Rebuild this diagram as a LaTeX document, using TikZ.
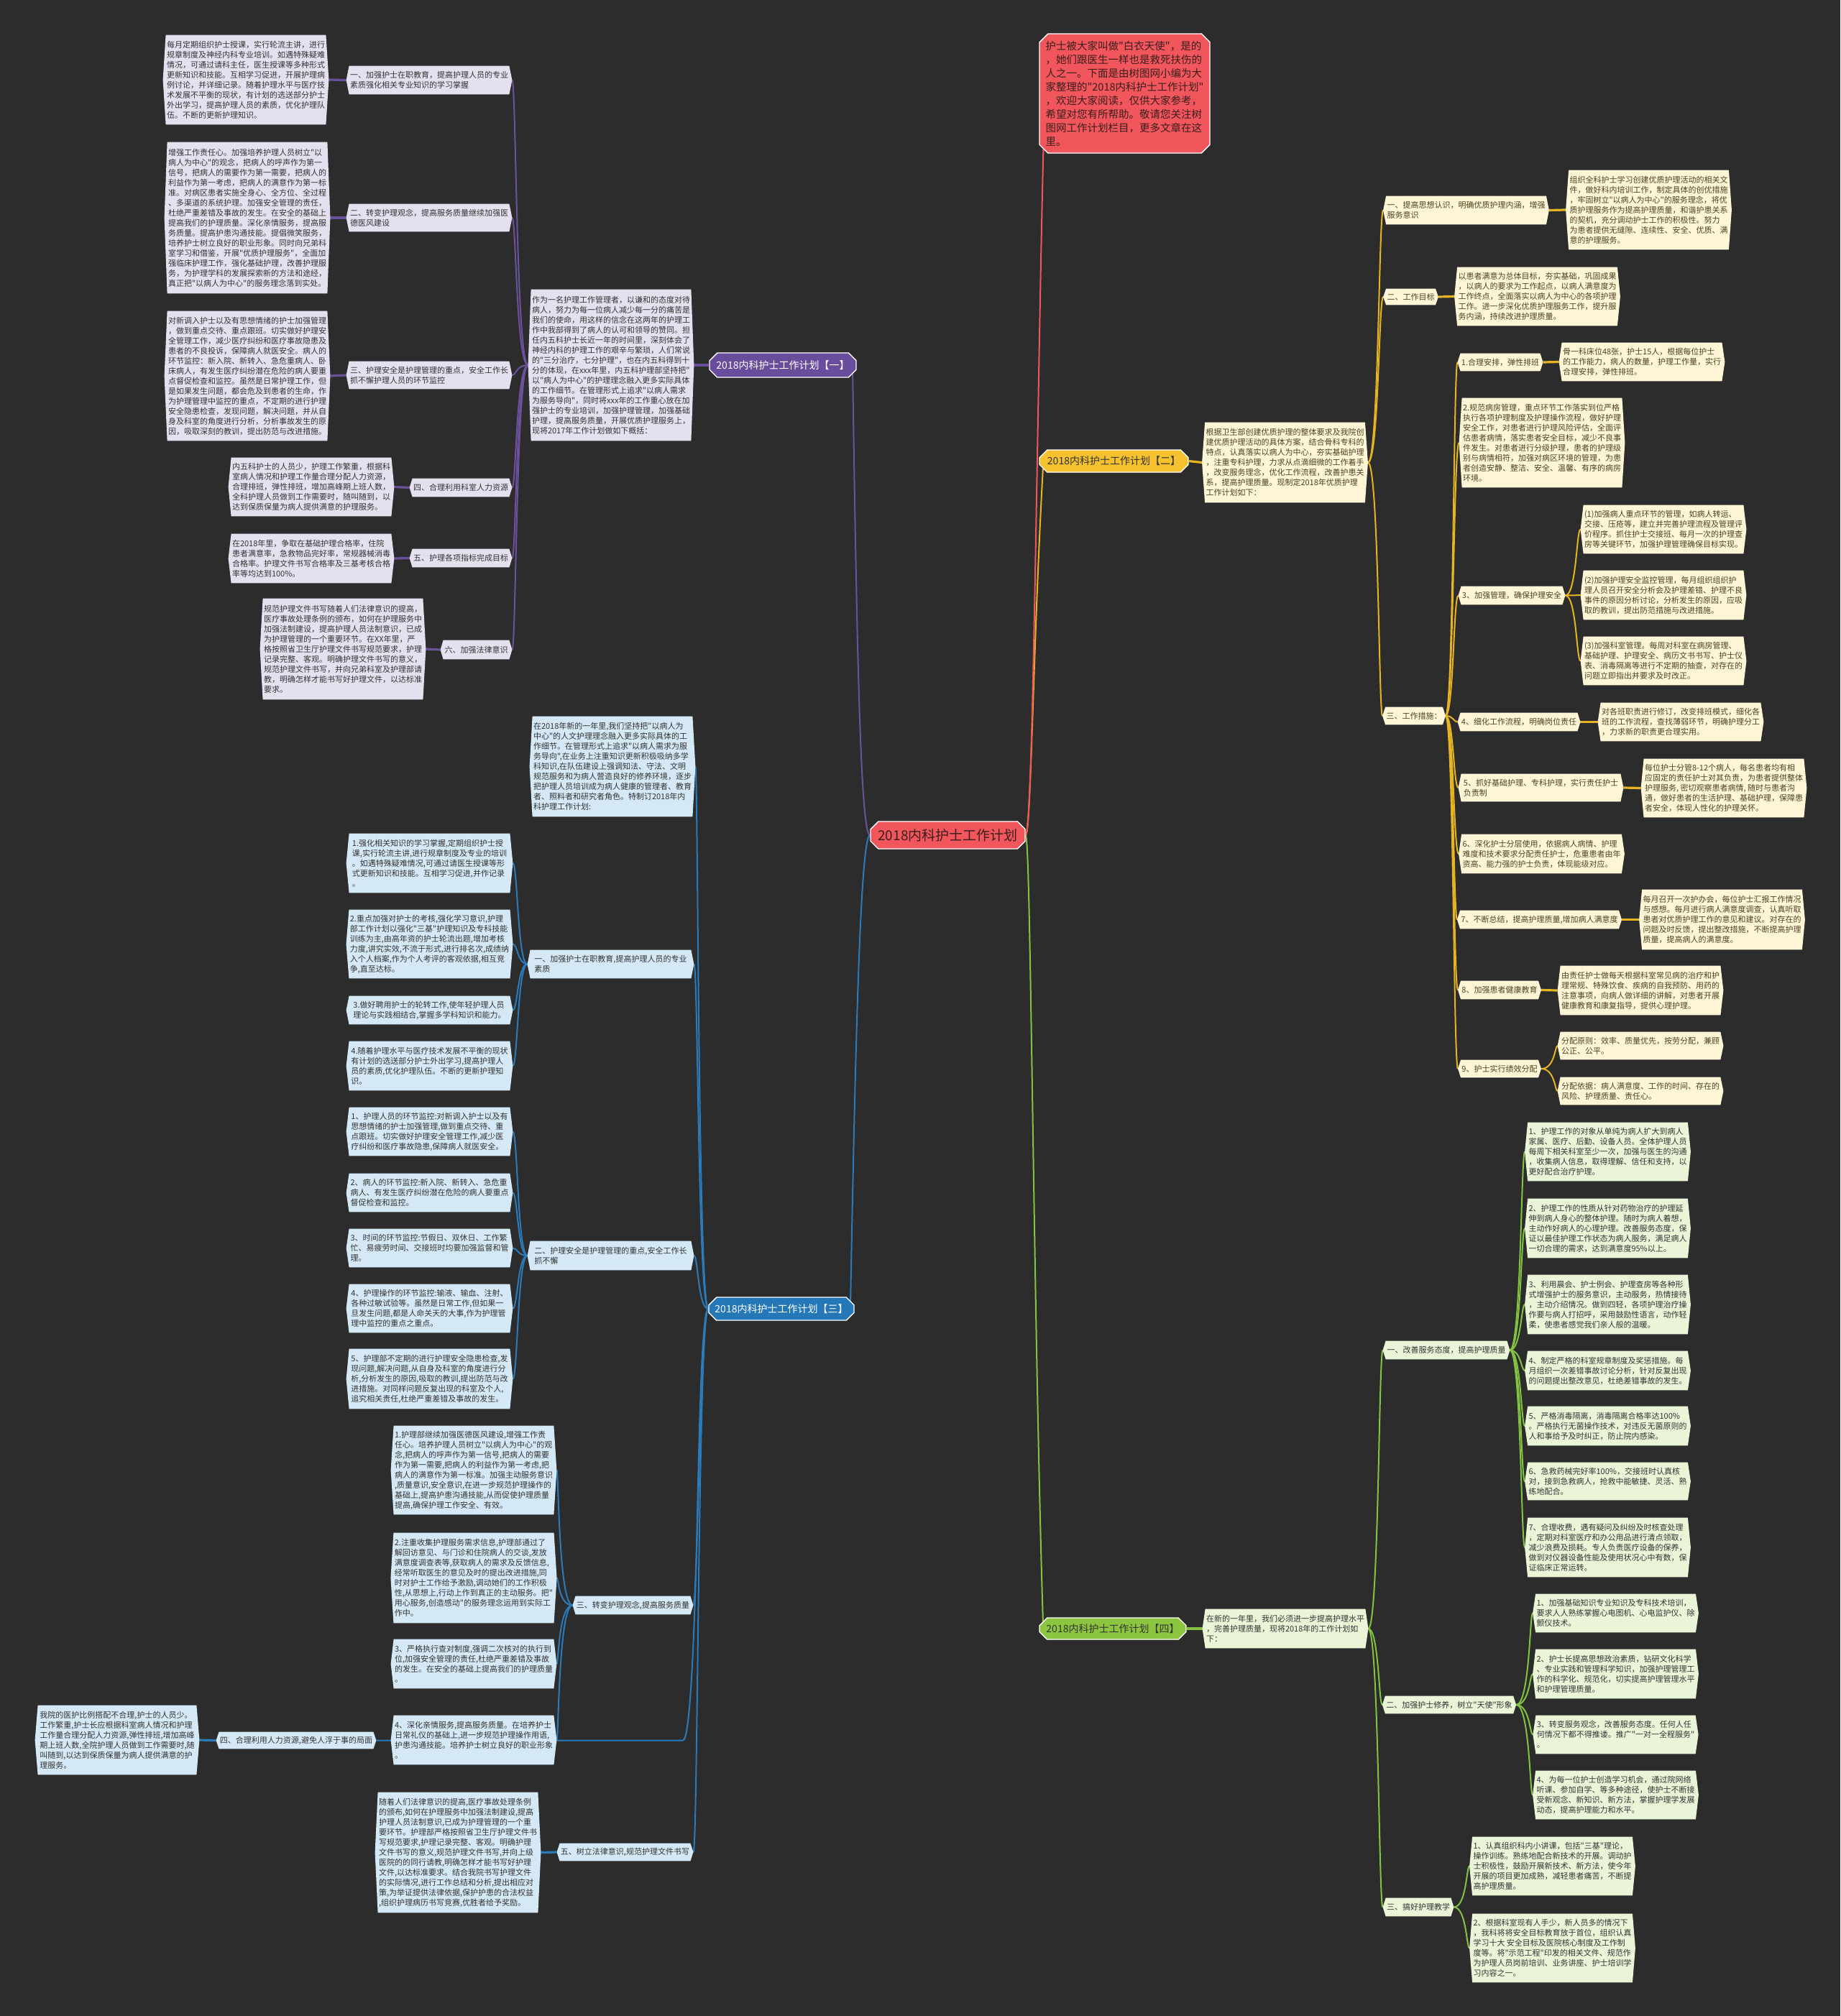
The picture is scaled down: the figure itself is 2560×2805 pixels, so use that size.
\documentclass[tikz,border=0pt]{standalone}
\usepackage{fontspec}
\newfontfamily\cjk{Noto Sans CJK SC}
\usetikzlibrary{shapes.misc,calc}
\makeatletter
\newdimen\hexdepth \hexdepth=2pt
\newdimen\hxa \newdimen\hxb \newdimen\hya \newdimen\hyb \newdimen\hym
\pgfdeclareshape{hexbox}{
  \inheritsavedanchors[from=rectangle]
  \inheritanchorborder[from=rectangle]
  \inheritanchor[from=rectangle]{center}
  \inheritanchor[from=rectangle]{north}
  \inheritanchor[from=rectangle]{south}
  \inheritanchor[from=rectangle]{west}
  \inheritanchor[from=rectangle]{east}
  \inheritanchor[from=rectangle]{north west}
  \inheritanchor[from=rectangle]{north east}
  \inheritanchor[from=rectangle]{south west}
  \inheritanchor[from=rectangle]{south east}
  \inheritanchor[from=rectangle]{text}
  \inheritanchor[from=rectangle]{base}
  \inheritanchor[from=rectangle]{mid}
  \anchor{tw}{\southwest \pgf@xa=\pgf@x \pgf@ya=\pgf@y \northeast
    \pgf@y=.5\pgf@y \advance\pgf@y by .5\pgf@ya
    \pgf@x=\pgf@xa \advance\pgf@x by -\hexdepth}
  \anchor{te}{\southwest \pgf@ya=\pgf@y \northeast
    \pgf@y=.5\pgf@y \advance\pgf@y by .5\pgf@ya
    \advance\pgf@x by \hexdepth}
  \backgroundpath{
    \southwest \hxa=\pgf@x \hya=\pgf@y
    \northeast \hxb=\pgf@x \hyb=\pgf@y
    \hym=.5\hya \advance\hym by .5\hyb
    \pgfpathmoveto{\pgfqpoint{\hxa}{\hyb}}
    \pgfpathlineto{\pgfqpoint{\dimexpr\hxa-\hexdepth\relax}{\hym}}
    \pgfpathlineto{\pgfqpoint{\hxa}{\hya}}
    \pgfpathlineto{\pgfqpoint{\hxb}{\hya}}
    \pgfpathlineto{\pgfqpoint{\dimexpr\hxb+\hexdepth\relax}{\hym}}
    \pgfpathlineto{\pgfqpoint{\hxb}{\hyb}}
    \pgfpathclose
  }
}
\makeatother
\pgfdeclarelayer{bg}\pgfdeclarelayer{lines}\pgfsetlayers{bg,lines,main}
\definecolor{bgc}{HTML}{2C2C2C}
\definecolor{rootc}{HTML}{F0565B}
\definecolor{purH}{HTML}{6A4C9C}
\definecolor{purL}{HTML}{E5E0F0}
\definecolor{purLine}{HTML}{6B519B}
\definecolor{yelH}{HTML}{F5C12E}
\definecolor{yelL}{HTML}{FDF5D5}
\definecolor{yelLine}{HTML}{E6B422}
\definecolor{yelT}{HTML}{4D4221}
\definecolor{bluH}{HTML}{2478B8}
\definecolor{bluL}{HTML}{D5E8F5}
\definecolor{bluLine}{HTML}{2B7BBB}
\definecolor{grnH}{HTML}{8CC63F}
\definecolor{grnL}{HTML}{EAF5D8}
\definecolor{grnLine}{HTML}{82C341}
\definecolor{txtc}{HTML}{333333}
\definecolor{rootT}{HTML}{3A1E1E}
\tikzset{
  every node/.style={font=\cjk\fontsize{5.5}{7}\selectfont},
  wh/.style 2 args={minimum width=#1*0.5pt, minimum height=#2*0.5pt},
  hx/.style={shape=hexbox, align=left, inner xsep=0.5pt, inner ysep=1pt},
  lfP/.style={hx, fill=purL, text=txtc},
  lfY/.style={hx, fill=yelL, text=yelT},
  lfB/.style={hx, fill=bluL, text=txtc},
  lfG/.style={hx, fill=grnL, text=txtc},
  hdr/.style={chamfered rectangle, chamfered rectangle xsep=2.5pt, draw=white, line width=0.7pt, inner sep=1pt, font=\cjk\fontsize{7}{8}\selectfont, align=center},
  lnP/.style={draw=purLine, line width=1pt},
  lnPs/.style={draw=purLine, line width=1.6pt},
  lnY/.style={draw=yelLine, line width=1pt},
  lnYs/.style={draw=yelLine, line width=1.6pt},
  lnB/.style={draw=bluLine, line width=1pt},
  lnBs/.style={draw=bluLine, line width=1.6pt},
  lnG/.style={draw=grnLine, line width=1pt},
  lnGs/.style={draw=grnLine, line width=1.6pt},
  lnR/.style={draw=rootc, line width=1pt},
}
\begin{document}
\begin{tikzpicture}[x=0.5pt,y=-0.5pt]
\begin{pgfonlayer}{bg}
\fill[bgc] (0,0) rectangle (2560,2805);
\end{pgfonlayer}
\useasboundingbox (0,0) rectangle (2560,2805);

% ===== root and intro =====
\node[hdr, fill=rootc, text=rootT, wh={215}{38}, font=\cjk\fontsize{9.5}{11}\selectfont] (root) at (1318.5,1162) {2018内科护士工作计划};
\node[hdr, fill=rootc, text=rootT, wh={237}{166}, align=left, chamfered rectangle xsep=3pt, font=\cjk\fontsize{7.25}{9.5}\selectfont] (intro) at (1564.5,130) {护士被大家叫做"白衣天使"，是的\\，她们跟医生一样也是救死扶伤的\\人之一。下面是由树图网小编为大\\家整理的"2018内科护士工作计划"\\，欢迎大家阅读，仅供大家参考，\\希望对您有所帮助。敬请您关注树\\图网工作计划栏目，更多文章在这\\里。};

% ===== branch 1 (purple) =====
\node[hdr, fill=purH, text=white, wh={204}{34}] (h1) at (1089,508) {2018内科护士工作计划【一】};
\node[lfP, wh={222}{210}] (d1) at (850,508) {作为一名护理工作管理者，以谦和的态度对待\\病人，努力为每一位病人减少每一分的痛苦是\\我们的使命，用这样的信念在这两年的护理工\\作中我部得到了病人的认可和领导的赞同。担\\任内五科护士长近一年的时间里，深刻体会了\\神经内科的护理工作的艰辛与繁琐，人们常说\\的"三分治疗，七分护理"，也在内五科得到十\\分的体现，在xxx年里，内五科护理部坚持把"\\以"病人为中心"的护理理念融入更多实际具体\\的工作细节。在管理形式上追求"以病人需求\\为服务导向"，同时将xxx年的工作重心放在加\\强护士的专业培训，加强护理管理，加强基础\\护理，提高服务质量，开展优质护理服务上，\\现将2017年工作计划做如下概括：};
\node[lfP, wh={222}{39}] (s11) at (597,111.5) {一、加强护士在职教育，提高护理人员的专业\\素质强化相关专业知识的学习掌握};
\node[lfP, wh={218}{124}] (l11) at (342,111) {每月定期组织护士授课，实行轮流主讲，进行\\规章制度及神经内科专业培训。如遇特殊疑难\\情况，可通过请科主任，医生授课等多种形式\\更新知识和技能。互相学习促进，开展护理病\\例讨论，并详细记录。随着护理水平与医疗技\\术发展不平衡的现状，有计划的选送部分护士\\外出学习，提高护理人员的素质，优化护理队\\伍。不断的更新护理知识。};
\node[lfP, wh={222}{38}] (s12) at (597,303) {二、转变护理观念，提高服务质量继续加强医\\德医风建设};
\node[lfP, wh={222}{210}] (l12) at (344,303) {增强工作责任心。加强培养护理人员树立"以\\病人为中心"的观念，把病人的呼声作为第一\\信号，把病人的需要作为第一需要，把病人的\\利益作为第一考虑，把病人的满意作为第一标\\准。对病区患者实施全身心、全方位、全过程\\、多渠道的系统护理。加强安全管理的责任，\\杜绝严重差错及事故的发生。在安全的基础上\\提高我们的护理质量。深化亲情服务，提高服\\务质量。提高护患沟通技能。提倡微笑服务，\\培养护士树立良好的职业形象。同时向兄弟科\\室学习和借鉴，开展"优质护理服务"，全面加\\强临床护理工作，强化基础护理，改善护理服\\务，为护理学科的发展探索新的方法和途经，\\真正把"以病人为中心"的服务理念落到实处。};
\node[lfP, wh={222}{38}] (s13) at (597,522) {三、护理安全是护理管理的重点，安全工作长\\抓不懈护理人员的环节监控};
\node[lfP, wh={222}{180}] (l13) at (344,523) {对新调入护士以及有思想情绪的护士加强管理\\，做到重点交待、重点跟班。切实做好护理安\\全管理工作，减少医疗纠纷和医疗事故隐患及\\患者的不良投诉，保障病人就医安全。病人的\\环节监控：新入院、新转入、急危重病人、卧\\床病人，有发生医疗纠纷潜在危险的病人要重\\点督促检查和监控。虽然是日常护理工作，但\\是如果发生问题，都会危及到患者的生命，作\\为护理管理中监控的重点，不定期的进行护理\\安全隐患检查，发现问题，解决问题，并从自\\身及科室的角度进行分析，分析事故发生的原\\因，吸取深刻的教训，提出防范与改进措施。};
\node[lfP, wh={134}{25}] (s14) at (641,678.5) {四、合理利用科室人力资源};
\node[lfP, wh={222}{81}] (l14) at (433,677.5) {内五科护士的人员少，护理工作繁重，根据科\\室病人情况和护理工作量合理分配人力资源，\\合理排班，弹性排班，增加高峰期上班人数，\\全科护理人员做到工作需要时，随叫随到，以\\达到保质保量为病人提供满意的护理服务。};
\node[lfP, wh={134}{25}] (s15) at (641,776.5) {五、护理各项指标完成目标};
\node[lfP, wh={222}{68}] (l15) at (433,777) {在2018年里，争取在基础护理合格率，住院\\患者满意率，急救物品完好率，常规器械消毒\\合格率。护理文件书写合格率及三基考核合格\\率等均达到100\%。};
\node[lfP, wh={91}{26}] (s16) at (662.5,904) {六、加强法律意识};
\node[lfP, wh={220}{140}] (l16) at (477,903) {规范护理文件书写随着人们法律意识的提高，\\医疗事故处理条例的颁布，如何在护理服务中\\加强法制建设，提高护理人员法制意识，已成\\为护理管理的一个重要环节。在XX年里，严\\格按照省卫生厅护理文件书写规范要求，护理\\记录完整、客观。明确护理文件书写的意义，\\规范护理文件书写，并向兄弟科室及护理部请\\教，明确怎样才能书写好护理文件，以达标准\\要求。};

% ===== branch 3 (blue) =====
\node[hdr, fill=bluH, text=white, wh={202}{32}] (h3) at (1087,1821) {2018内科护士工作计划【三】};
\node[lfB, wh={218}{139}] (d3) at (852,1066.5) {在2018年新的一年里,我们坚持把"以病人为\\中心"的人文护理理念融入更多实际具体的工\\作细节。在管理形式上追求"以病人需求为服\\务导向",在业务上注重知识更新积极吸纳多学\\科知识,在队伍建设上强调知法、守法、文明\\规范服务和为病人营造良好的修养环境，逐步\\把护理人员培训成为病人健康的管理者、教育\\者、照料者和研究者角色。特制订2018年内\\科护理工作计划:};
\node[lfB, wh={223}{39}] (s31) at (849.5,1341.5) {一、加强护士在职教育,提高护理人员的专业\\素质};
\node[lfB, wh={223}{82}] (l311) at (597.5,1201) {1.强化相关知识的学习掌握,定期组织护士授\\课,实行轮流主讲,进行规章制度及专业的培训\\。如遇特殊疑难情况,可通过请医生授课等形\\式更新知识和技能。互相学习促进,并作记录\\。};
\node[lfB, wh={223}{95}] (l312) at (597.5,1313.5) {2.重点加强对护士的考核,强化学习意识,护理\\部工作计划以强化"三基"护理知识及专科技能\\训练为主,由高年资的护士轮流出题,增加考核\\力度,讲究实效,不流于形式,进行排名次,成绩纳\\入个人档案,作为个人考评的客观依据,相互竞\\争,直至达标。};
\node[lfB, wh={223}{39}] (l313) at (597.5,1405.5) {3.做好聘用护士的轮转工作,使年轻护理人员\\理论与实践相结合,掌握多学科知识和能力。};
\node[lfB, wh={223}{68}] (l314) at (597.5,1483) {4.随着护理水平与医疗技术发展不平衡的现状\\有计划的选送部分护士外出学习,提高护理人\\员的素质,优化护理队伍。不断的更新护理知\\识。};
\node[lfB, wh={223}{40}] (s32) at (849.5,1747) {二、护理安全是护理管理的重点,安全工作长\\抓不懈};
\node[lfB, wh={223}{67}] (l321) at (597.5,1574.5) {1、护理人员的环节监控:对新调入护士以及有\\思想情绪的护士加强管理,做到重点交待、重\\点跟班。切实做好护理安全管理工作,减少医\\疗纠纷和医疗事故隐患,保障病人就医安全。};
\node[lfB, wh={223}{53}] (l322) at (597.5,1659.5) {2、病人的环节监控:新入院、新转入、急危重\\病人、有发生医疗纠纷潜在危险的病人要重点\\督促检查和监控。};
\node[lfB, wh={223}{53}] (l323) at (597.5,1736.5) {3、时间的环节监控:节假日、双休日、工作繁\\忙、易疲劳时间、交接班时均要加强监督和管\\理。};
\node[lfB, wh={223}{67}] (l324) at (597.5,1820.5) {4、护理操作的环节监控:输液、输血、注射、\\各种过敏试验等。虽然是日常工作,但如果一\\旦发生问题,都是人命关天的大事,作为护理管\\理中监控的重点之重点。};
\node[lfB, wh={223}{83}] (l325) at (597.5,1918.5) {5、护理部不定期的进行护理安全隐患检查,发\\现问题,解决问题,从自身及科室的角度进行分\\析,分析发生的原因,吸取的教训,提出防范与改\\进措施。对同样问题反复出现的科室及个人,\\追究相关责任,杜绝严重差错及事故的发生。};
\node[lfB, wh={157}{25}] (s33) at (880.5,2233.5) {三、转变护理观念,提高服务质量};
\node[lfB, wh={214}{123}] (l331) at (659,2045.5) {1.护理部继续加强医德医风建设,增强工作责\\任心。培养护理人员树立"以病人为中心"的观\\念,把病人的呼声作为第一信号,把病人的需要\\作为第一需要,把病人的利益作为第一考虑,把\\病人的满意作为第一标准。加强主动服务意识\\,质量意识,安全意识,在进一步规范护理操作的\\基础上,提高护患沟通技能,从而促使护理质量\\提高,确保护理工作安全、有效。};
\node[lfB, wh={214}{125}] (l332) at (659,2195.5) {2.注重收集护理服务需求信息,护理部通过了\\解回访意见、与门诊和住院病人的交谈,发放\\满意度调查表等,获取病人的需求及反馈信息,\\经常听取医生的意见及时的提出改进措施,同\\时对护士工作给予激励,调动她们的工作积极\\性,从思想上,行动上作到真正的主动服务。把"\\用心服务,创造感动"的服务理念运用到实际工\\作中。};
\node[lfB, wh={214}{68}] (l333) at (659,2315) {3、严格执行查对制度,强调二次核对的执行到\\位,加强安全管理的责任,杜绝严重差错及事故\\的发生。在安全的基础上提高我们的护理质量\\。};
\node[lfB, wh={214}{68}] (l334) at (659,2421) {4、深化亲情服务,提高服务质量。在培养护士\\日常礼仪的基础上,进一步规范护理操作用语,\\护患沟通技能。培养护士树立良好的职业形象\\。};
\node[lfB, wh={214}{23}] (s34) at (412,2421.5) {四、合理利用人力资源,避免人浮于事的局面};
\node[lfB, wh={220}{96}] (l34) at (163,2421) {我院的医护比例搭配不合理,护士的人员少。\\工作繁重,护士长应根据科室病人情况和护理\\工作量合理分配人力资源,弹性排班,增加高峰\\期上班人数,全院护理人员做到工作需要时,随\\叫随到,以达到保质保量为病人提供满意的护\\理服务。};
\node[lfB, wh={179}{24}] (s35) at (869.5,2577) {五、树立法律意识,规范护理文件书写};
\node[lfB, wh={212}{167}] (l35) at (637,2577.5) {随着人们法律意识的提高,医疗事故处理条例\\的颁布,如何在护理服务中加强法制建设,提高\\护理人员法制意识,已成为护理管理的一个重\\要环节。护理部严格按照省卫生厅护理文件书\\写规范要求,护理记录完整、客观。明确护理\\文件书写的意义,规范护理文件书写,并向上级\\医院的的同行请教,明确怎样才能书写好护理\\文件,以达标准要求。结合我院书写护理文件\\的实际情况,进行工作总结和分析,提出相应对\\策,为举证提供法律依据,保护护患的合法权益\\,组织护理病历书写竞赛,优胜者给予奖励。};

% ===== branch 2 (yellow) =====
\node[hdr, fill=yelH, text=txtc, wh={207}{31}] (h2) at (1549.5,641.5) {2018内科护士工作计划【二】};
\node[lfY, wh={217}{111}] (d2) at (1787.5,643.5) {根据卫生部创建优质护理的整体要求及我院创\\建优质护理活动的具体方案，结合骨科专科的\\特点，认真落实以病人为中心，夯实基础护理\\，注重专科护理，力求从点滴细微的工作着手\\，改变服务理念，优化工作流程，改善护患关\\系，提高护理质量。现制定2018年优质护理\\工作计划如下：};
\node[lfY, wh={221}{39}] (s21) at (2039.5,292.5) {一、提高思想认识，明确优质护理内涵，增强\\服务意识};
\node[lfY, wh={217}{110}] (l21) at (2293.5,292) {组织全科护士学习创建优质护理活动的相关文\\件，做好科内培训工作，制定具体的创优措施\\，牢固树立"以病人为中心"的服务理念，将优\\质护理服务作为提高护理质量，和谐护患关系\\的契机，充分调动护士工作的积极性。努力\\为患者提供无缝隙、连续性、安全、优质、满\\意的护理服务。};
\node[lfY, wh={67}{22}] (s22) at (1962.5,413) {二、工作目标};
\node[lfY, wh={219}{81}] (l22) at (2138.5,412.5) {以患者满意为总体目标，夯实基础，巩固成果\\，以病人的要求为工作起点，以病人满意度为\\工作终点，全面落实以病人为中心的各项护理\\工作。进一步深化优质护理服务工作，提升服\\务内涵，持续改进护理质量。};
\node[lfY, wh={72}{24}] (s23) at (1967,996) {三、工作措施：};
\node[lfY, wh={108}{24}] (s231) at (2087,504) {1.合理安排，弹性排班};
\node[lfY, wh={220}{53}] (l231) at (2284,503.5) {骨一科床位48张，护士15人，根据每位护士\\的工作能力，病人的数量，护理工作量，实行\\合理安排，弹性排班。};
\node[lfY, wh={216}{124}] (s232) at (2145,616) {2.规范病房管理，重点环节工作落实到位严格\\执行各项护理制度及护理操作流程，做好护理\\安全工作，对患者进行护理风险评估，全面评\\估患者病情，落实患者安全目标，减少不良事\\件发生。对患者进行分级护理，患者的护理级\\别与病情相符，加强对病区环境的管理，为患\\者创造安静、整洁、安全、温馨、有序的病房\\环境。};
\node[lfY, wh={140}{25}] (s233) at (2103,828.5) {3、加强管理，确保护理安全};
\node[lfY, wh={218}{67}] (l2331) at (2314,736.5) {(1)加强病人重点环节的管理，如病人转运、\\交接、压疮等，建立并完善护理流程及管理评\\价程序。抓住护士交接班、每月一次的护理查\\房等关键环节，加强护理管理确保目标实现。};
\node[lfY, wh={218}{68}] (l2332) at (2314,828) {(2)加强护理安全监控管理，每月组织组织护\\理人员召开安全分析会及护理差错、护理不良\\事件的原因分析讨论，分析发生的原因，应吸\\取的教训，提出防范措施与改进措施。};
\node[lfY, wh={218}{67}] (l2333) at (2314,919.5) {(3)加强科室管理。每周对科室在病房管理、\\基础护理、护理安全、病历文书书写、护士仪\\表、消毒隔离等进行不定期的抽查，对存在的\\问题立即指出并要求及时改正。};
\node[lfY, wh={160}{25}] (s234) at (2113,1004.5) {4、细化工作流程，明确岗位责任};
\node[lfY, wh={218}{53}] (l234) at (2338,1004.5) {对各班职责进行修订，改变排班模式，细化各\\班的工作流程，查找薄弱环节，明确护理分工\\，力求新的职责更合理实用。};
\node[lfY, wh={221}{38}] (s235) at (2143.5,1096) {5、抓好基础护理、专科护理，实行责任护士\\负责制};
\node[lfY, wh={216}{81}] (l235) at (2398,1096.5) {每位护士分管8-12个病人，每名患者均有相\\应固定的责任护士对其负责，为患者提供整体\\护理服务, 密切观察患者病情, 随时与患者沟\\通，做好患者的生活护理、基础护理，保障患\\者安全，体现人性化的护理关怀。};
\node[lfY, wh={219}{54}] (s236) at (2144.5,1188) {6、深化护士分层使用，依据病人病情、护理\\难度和技术要求分配责任护士，危重患者由年\\资高、能力强的护士负责，体现能级对应。};
\node[lfY, wh={217}{25}] (s237) at (2141.5,1279.5) {7、不断总结，提高护理质量,增加病人满意度};
\node[lfY, wh={217}{83}] (l237) at (2395.5,1279.5) {每月召开一次护办会，每位护士汇报工作情况\\与感想。每月进行病人满意度调查，认真听取\\患者对优质护理工作的意见和建议。对存在的\\问题及时反馈，提出整改措施，不断提高护理\\质量，提高病人的满意度。};
\node[lfY, wh={106}{25}] (s238) at (2086,1377.5) {8、加强患者健康教育};
\node[lfY, wh={218}{68}] (l238) at (2282,1378) {由责任护士做每天根据科室常见病的治疗和护\\理常规、特殊饮食、疾病的自我预防、用药的\\注意事项，向病人做详细的讲解，对患者开展\\健康教育和康复指导，提供心理护理。};
\node[lfY, wh={106}{24}] (s239) at (2086,1487) {9、护士实行绩效分配};
\node[lfY, wh={218}{38}] (l2391) at (2282,1455) {分配原则：效率、质量优先，按劳分配，兼顾\\公正、公平。};
\node[lfY, wh={218}{38}] (l2392) at (2282,1518) {分配依据：病人满意度、工作的时间、存在的\\风险、护理质量、责任心。};

% ===== branch 4 (green) =====
\node[hdr, fill=grnH, text=txtc, wh={204}{30}] (h4) at (1548,2266) {2018内科护士工作计划【四】};
\node[lfG, wh={222}{54}] (d4) at (1788,2266) {在新的一年里，我们必须进一步提高护理水平\\，完善护理质量，现将2018年的工作计划如\\下：};
\node[lfG, wh={168}{25}] (s41) at (2012,1878.5) {一、改善服务态度，提高护理质量};
\node[lfG, wh={221}{81}] (l411) at (2236.5,1602.5) {1、护理工作的对象从单纯为病人扩大到病人\\家属、医疗、后勤、设备人员。全体护理人员\\每周下相关科室至少一次，加强与医生的沟通\\，收集病人信息，取得理解、信任和支持，以\\更好配合治疗护理。};
\node[lfG, wh={221}{82}] (l412) at (2236.5,1709) {2、护理工作的性质从针对药物治疗的护理延\\伸到病人身心的整体护理。随时为病人着想，\\主动作好病人的心理护理。改善服务态度，保\\证以最佳护理工作状态为病人服务，满足病人\\一切合理的需求，达到满意度95\%以上。};
\node[lfG, wh={221}{82}] (l413) at (2236.5,1815) {3、利用晨会、护士例会、护理查房等各种形\\式增强护士的服务意识，主动服务，热情接待\\，主动介绍情况。做到四轻，各项护理治疗操\\作要与病人打招呼，采用鼓励性语言，动作轻\\柔，使患者感觉我们亲人般的温暖。};
\node[lfG, wh={221}{54}] (l414) at (2236.5,1907) {4、制定严格的科室规章制度及奖惩措施。每\\月组织一次差错事故讨论分析，针对反复出现\\的问题提出整改意见，杜绝差错事故的发生。};
\node[lfG, wh={221}{54}] (l415) at (2236.5,1984) {5、严格消毒隔离，消毒隔离合格率达100\%\\。严格执行无菌操作技术，对违反无菌原则的\\人和事给予及时纠正，防止院内感染。};
\node[lfG, wh={221}{52}] (l416) at (2236.5,2061) {6、急救药械完好率100\%，交接班时认真核\\对，接到急救病人，抢救中能敏捷、灵活、熟\\练地配合。};
\node[lfG, wh={221}{82}] (l417) at (2236.5,2153) {7、合理收费，遇有疑问及纠纷及时核查处理\\，定期对科室医疗和办公用品进行清点领取，\\减少浪费及损耗。专人负责医疗设备的保养，\\做到对仪器设备性能及使用状况心中有数，保\\证临床正常运转。};
\node[lfG, wh={174}{24}] (s42) at (2016,2372) {二、加强护士修养，树立"天使"形象};
\node[lfG, wh={221}{53}] (l421) at (2247.5,2244.5) {1、加强基础知识专业知识及专科技术培训，\\要求人人熟练掌握心电图机、心电监护仪、除\\颤仪技术。};
\node[lfG, wh={221}{68}] (l422) at (2247.5,2329) {2、护士长提高思想政治素质，钻研文化科学\\、专业实践和管理科学知识，加强护理管理工\\作的科学化、规范化，切实提高护理管理水平\\和护理管理质量。};
\node[lfG, wh={221}{53}] (l423) at (2247.5,2413.5) {3、转变服务观念，改善服务态度。任何人任\\何情况下都不得推诿。推广"一对一全程服务"\\。};
\node[lfG, wh={221}{67}] (l424) at (2247.5,2497.5) {4、为每一位护士创造学习机会，通过院网络\\听课、参加自学、等多种途径，使护士不断接\\受新观念、新知识、新方法，掌握护理学发展\\动态，提高护理能力和水平。};
\node[lfG, wh={88}{25}] (s43) at (1973,2653.5) {三、搞好护理教学};
\node[lfG, wh={219}{81}] (l431) at (2159.5,2596.5) {1、认真组织科内小讲课，包括"三基"理论，\\操作训练。熟练地配合新技术的开展。调动护\\士积极性，鼓励开展新技术、新方法，使今年\\开展的项目更加成熟，减轻患者痛苦，不断提\\高护理质量。};
\node[lfG, wh={219}{95}] (l432) at (2159.5,2710.5) {2、根据科室现有人手少，新人员多的情况下\\，我科将将安全目标教育放于首位，组织认真\\学习十大 安全目标及医院核心制度及工作制\\度等。将"示范工程"印发的相关文件、规范作\\为护理人员岗前培训、业务讲座、护士培训学\\习内容之一。};

% ===== connectors =====
\begin{pgfonlayer}{lines}
% root to branches
\draw[lnP] (root.west) .. controls (1197,1162) and (1192,900) .. (h1.south east);
\draw[lnB] (root.west) .. controls (1197,1162) and (1190,1450) .. (h3.north east);
\draw[lnY] (root.east) .. controls (1434,1162) and (1437,900) .. (h2.south west);
\draw[lnR] (root.east) .. controls (1437,1162) and (1442,600) .. (intro.south west);
\draw[lnG] (root.east) .. controls (1434,1162) and (1437,1800) .. (h4.north west);
% branch 1
\draw[lnPs] (h1.west) -- (d1.te);
\foreach \s in {s11,s12,s13,s14,s15,s16}
  \draw[lnP] (d1.tw) .. controls (718,0 |- d1.tw) and (718,0 |- \s.te) .. (\s.te);
\foreach \s/\l in {s11/l11,s12/l12,s13/l13,s14/l14,s15/l15,s16/l16}
  \draw[lnPs] (\s.tw) -- (\l.te);
% branch 3
\foreach \s in {d3,s31,s32,s33,s35}
  \draw[lnB] (h3.west) .. controls (971,0 |- h3.west) and (971,0 |- \s.te) .. (\s.te);
\draw[lnB] (h3.west) .. controls (971,0 |- h3.west) and (971,0 |- s34.te) .. (950,0 |- s34.te) -- (s34.te);
\foreach \l in {l311,l312,l313,l314}
  \draw[lnB] (s31.tw) .. controls (720,0 |- s31.tw) and (720,0 |- \l.te) .. (\l.te);
\foreach \l in {l321,l322,l323,l324,l325}
  \draw[lnB] (s32.tw) .. controls (720,0 |- s32.tw) and (720,0 |- \l.te) .. (\l.te);
\foreach \l in {l331,l332,l333,l334}
  \draw[lnB] (s33.tw) .. controls (777,0 |- s33.tw) and (777,0 |- \l.te) .. (\l.te);
\draw[lnBs] (s34.tw) -- (l34.te);
\draw[lnBs] (s35.tw) -- (l35.te);
% branch 2
\draw[lnYs] (h2.east) -- (d2.tw);
\foreach \s in {s21,s22,s23}
  \draw[lnY] (d2.te) .. controls (1918,0 |- d2.te) and (1918,0 |- \s.tw) .. (\s.tw);
\draw[lnYs] (s21.te) -- (l21.tw);
\draw[lnYs] (s22.te) -- (l22.tw);
\foreach \s in {s231,s232,s233,s234,s235,s236,s237,s238,s239}
  \draw[lnY] (s23.te) .. controls (2022,0 |- s23.te) and (2022,0 |- \s.tw) .. (\s.tw);
\draw[lnYs] (s231.te) -- (l231.tw);
\foreach \l in {l2331,l2332,l2333}
  \draw[lnY] (s233.te) .. controls (2193,0 |- s233.te) and (2193,0 |- \l.tw) .. (\l.tw);
\draw[lnYs] (s234.te) -- (l234.tw);
\draw[lnYs] (s235.te) -- (l235.tw);
\draw[lnYs] (s237.te) -- (l237.tw);
\draw[lnYs] (s238.te) -- (l238.tw);
\foreach \l in {l2391,l2392}
  \draw[lnY] (s239.te) .. controls (2163,0 |- s239.te) and (2163,0 |- \l.tw) .. (\l.tw);
% branch 4
\draw[lnGs] (h4.east) -- (d4.tw);
\foreach \s in {s41,s42,s43}
  \draw[lnG] (d4.te) .. controls (1918,0 |- d4.te) and (1918,0 |- \s.tw) .. (\s.tw);
\foreach \l in {l411,l412,l413,l414,l415,l416,l417}
  \draw[lnG] (s41.te) .. controls (2116,0 |- s41.te) and (2116,0 |- \l.tw) .. (\l.tw);
\foreach \l in {l421,l422,l423,l424}
  \draw[lnG] (s42.te) .. controls (2128,0 |- s42.te) and (2128,0 |- \l.tw) .. (\l.tw);
\foreach \l in {l431,l432}
  \draw[lnG] (s43.te) .. controls (2040,0 |- s43.te) and (2040,0 |- \l.tw) .. (\l.tw);
\end{pgfonlayer}
\end{tikzpicture}
\end{document}
